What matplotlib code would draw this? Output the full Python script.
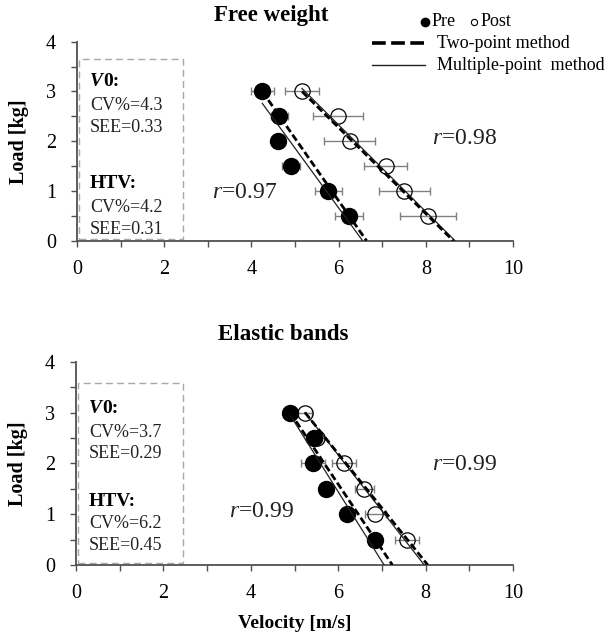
import matplotlib
matplotlib.use("Agg")
import matplotlib.pyplot as plt
from matplotlib.lines import Line2D
from matplotlib.patches import Rectangle
from matplotlib.ticker import MultipleLocator

plt.rcParams['font.family'] = ['Liberation Serif', 'DejaVu Serif']
plt.rcParams['mathtext.fontset'] = 'custom'
plt.rcParams['mathtext.rm'] = 'Liberation Serif'
plt.rcParams['mathtext.it'] = 'Liberation Serif:italic'
plt.rcParams['mathtext.bf'] = 'Liberation Serif:bold'

# ---- data ----
loads = [3.0, 2.5, 2.0, 1.5, 1.0, 0.5]

fw_pre_v = [4.25, 4.64, 4.62, 4.91, 5.76, 6.24]
fw_pre_err = [0.27, 0.20, 0.15, 0.21, 0.31, 0.32]
fw_post_v = [5.16, 5.98, 6.25, 7.08, 7.51, 8.05]
fw_post_err = [0.38, 0.57, 0.58, 0.50, 0.58, 0.64]

eb_pre_v = [4.90, 5.45, 5.43, 5.71, 6.20, 6.85]
eb_pre_err = [0.15, 0.19, 0.27, 0.10, 0.12, 0.10]
eb_post_v = [5.24, 5.52, 6.13, 6.60, 6.85, 7.58]
eb_post_err = [0.17, 0.15, 0.28, 0.21, 0.24, 0.27]

# fitted lines: (velocities, loads) of both ends
fw_pre_multi = ([4.25, 6.55], [2.76, 0.0])
fw_pre_two = ([4.25, 6.64], [3.0, 0.0])
fw_post_multi = ([5.16, 8.67], [3.06, 0.0])
fw_post_two = ([5.16, 8.63], [3.0, 0.0])
eb_pre_multi = ([4.90, 7.05], [2.95, 0.0])
eb_pre_two = ([4.90, 7.24], [3.0, 0.0])
eb_post_multi = ([5.24, 7.97], [3.0, 0.0])
eb_post_two = ([5.24, 8.05], [3.0, 0.0])

fw_stats = ["CV%=4.3", "SEE=0.33", "CV%=4.2", "SEE=0.31"]
eb_stats = ["CV%=3.7", "SEE=0.29", "CV%=6.2", "SEE=0.45"]
fw_r = ["0.97", "0.98"]
eb_r = ["0.99", "0.99"]

AX_COL = '#505050'

fig = plt.figure(figsize=(6.12, 6.37), dpi=100)
ax1 = fig.add_axes([77 / 612, 1 - 240.7 / 637, 436 / 612, 199 / 637])
ax2 = fig.add_axes([76 / 612, 1 - 565 / 637, 437 / 612, 203.3 / 637])


def draw_panel(ax, pre_v, pre_err, post_v, post_err, lines, stats, rvals, rpos, text_y):
    ax.errorbar(pre_v, loads, xerr=pre_err, fmt='none', ecolor='#808080',
                elinewidth=1, capsize=3, capthick=1, zorder=2)
    ax.errorbar(post_v, loads, xerr=post_err, fmt='none', ecolor='#808080',
                elinewidth=1, capsize=3, capthick=1, zorder=2)
    ax.plot(pre_v, loads, 'o', color='black', markersize=11.5, zorder=3)
    ax.plot(post_v, loads, 'o', markerfacecolor='none', markeredgecolor='black',
            markeredgewidth=0.9, markersize=11, zorder=3)
    for (xs, ys), kind in lines:
        if kind == 'two':
            ax.plot(xs, ys, color='black', lw=2.0, dashes=(2.6, 1.2), zorder=4)
        else:
            ax.plot(xs, ys, color='#222222', lw=0.9, zorder=4)

    ax.add_patch(Rectangle((0.04, 0.03), 2.4, text_y[6] - 0.03, fill=False,
                           edgecolor='#a8a8a8', lw=1.0, ls=(0, (5, 3)), zorder=1))
    ax.text(0.3, text_y[0], 'V', fontsize=14, fontweight='bold',
            fontstyle='italic', va='center', ha='left')
    ax.annotate('0:', xy=(0.3, text_y[0]), xytext=(9.5, 0), textcoords='offset points',
                fontsize=14, fontweight='bold', va='center', ha='left')
    ax.text(0.3, text_y[1], stats[0], fontsize=13, va='center', ha='left', color='#222222')
    ax.text(0.3, text_y[2], stats[1], fontsize=13, va='center', ha='left', color='#222222')
    ax.text(0.3, text_y[3], 'HTV:', fontsize=14, fontweight='bold', va='center', ha='left')
    ax.text(0.3, text_y[4], stats[2], fontsize=13, va='center', ha='left', color='#222222')
    ax.text(0.3, text_y[5], stats[3], fontsize=13, va='center', ha='left', color='#222222')

    for (x, y), r in zip(rpos, rvals):
        ax.text(x, y, r'$\mathit{r}$=' + r, fontsize=17, va='center', ha='left', color='#222222')

    ax.set_xlim(0, 10)
    ax.set_ylim(0, 4)
    ax.xaxis.set_major_locator(MultipleLocator(2))
    ax.xaxis.set_minor_locator(MultipleLocator(1))
    ax.yaxis.set_major_locator(MultipleLocator(1))
    ax.yaxis.set_minor_locator(MultipleLocator(0.5))
    for s in ['top', 'right']:
        ax.spines[s].set_visible(False)
    for s in ['left', 'bottom']:
        ax.spines[s].set_color(AX_COL)
        ax.spines[s].set_linewidth(1.3)
    ax.tick_params(which='both', direction='out', length=4, width=1, color=AX_COL)
    ax.tick_params(axis='x', which='major', labelsize=14.5, pad=10)
    ax.tick_params(axis='y', which='major', labelsize=14.5, pad=11)
    ax.set_ylabel('Load [kg]', fontsize=14.5, fontweight='bold')
    ax.yaxis.set_label_coords(-0.11, 0.5)


draw_panel(ax1, fw_pre_v, fw_pre_err, fw_post_v, fw_post_err,
           [(fw_pre_multi, 'multi'), (fw_pre_two, 'two'),
            (fw_post_multi, 'multi'), (fw_post_two, 'two')],
           fw_stats, fw_r, [(3.1, 0.96), (8.15, 2.05)],
           [3.2, 2.71, 2.28, 1.15, 0.66, 0.23, 3.65])
draw_panel(ax2, eb_pre_v, eb_pre_err, eb_post_v, eb_post_err,
           [(eb_pre_multi, 'multi'), (eb_pre_two, 'two'),
            (eb_post_multi, 'multi'), (eb_post_two, 'two')],
           eb_stats, eb_r, [(3.5, 1.05), (8.15, 1.97)],
           [3.08, 2.61, 2.2, 1.25, 0.82, 0.39, 3.58])

ax2.set_xlabel('Velocity [m/s]', fontsize=14, fontweight='bold')
ax2.xaxis.set_label_coords(0.5, -0.245)

fig.text(271 / 612, 1 - 16 / 637, 'Free weight', fontsize=16.5, fontweight='bold',
         ha='center', va='center')
fig.text(283 / 612, 1 - 334 / 637, 'Elastic bands', fontsize=16.5, fontweight='bold',
         ha='center', va='center')

# legend, drawn by hand
def fx(px):
    return px / 612


def fy(py):
    return 1 - py / 637


fig.add_artist(Line2D([fx(425)], [fy(22)], marker='o', color='black', markersize=6,
                      transform=fig.transFigure))
fig.text(fx(432), fy(22), 'Pre', fontsize=13, va='center', ha='left')
fig.add_artist(Line2D([fx(474)], [fy(22)], marker='o', markerfacecolor='none',
                      markeredgecolor='black', markeredgewidth=0.8, markersize=4.5,
                      transform=fig.transFigure))
fig.text(fx(481), fy(22), 'Post', fontsize=13, va='center', ha='left')
fig.add_artist(Line2D([fx(372), fx(425)], [fy(43), fy(43)], color='black', lw=2.6,
                      dashes=(3.8, 1.5), transform=fig.transFigure))
fig.text(fx(437), fy(43), 'Two-point method', fontsize=13, va='center', ha='left')
fig.add_artist(Line2D([fx(372), fx(425)], [fy(65), fy(65)], color='#222222', lw=1.0,
                      transform=fig.transFigure))
fig.text(fx(437), fy(65), 'Multiple-point  method', fontsize=13, va='center', ha='left')

fig.savefig('out.png', dpi=100)
